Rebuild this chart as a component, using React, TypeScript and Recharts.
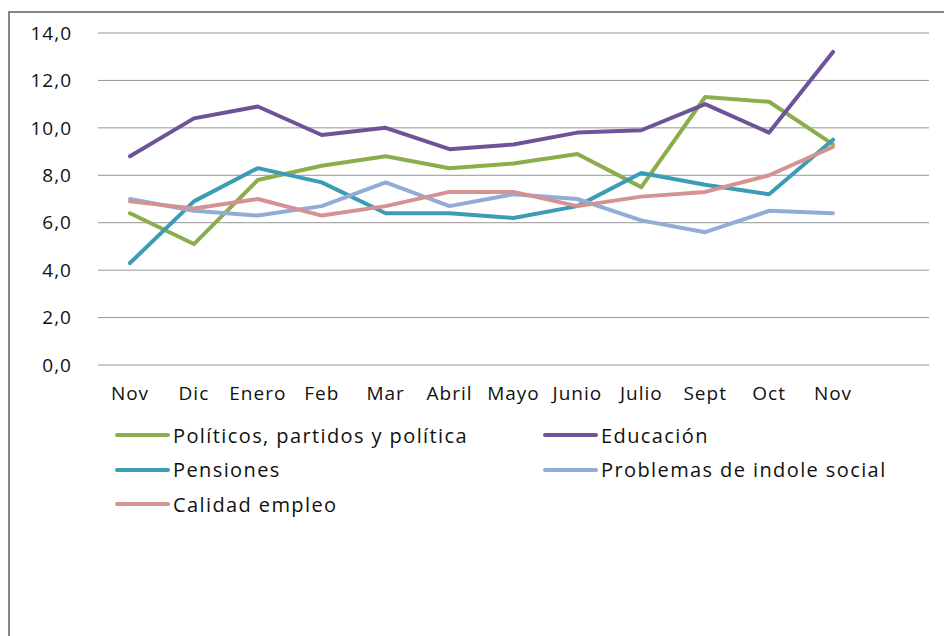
import React from 'react';
import { LineChart, Line, XAxis, YAxis, CartesianGrid } from 'recharts';

const meses = ['Nov', 'Dic', 'Enero', 'Feb', 'Mar', 'Abril', 'Mayo', 'Junio', 'Julio', 'Sept', 'Oct', 'Nov'];

const politicos = [6.4, 5.1, 7.8, 8.4, 8.8, 8.3, 8.5, 8.9, 7.5, 11.3, 11.1, 9.3];
const educacion = [8.8, 10.4, 10.9, 9.7, 10.0, 9.1, 9.3, 9.8, 9.9, 11.0, 9.8, 13.2];
const pensiones = [4.3, 6.9, 8.3, 7.7, 6.4, 6.4, 6.2, 6.7, 8.1, 7.6, 7.2, 9.5];
const problemas = [7.0, 6.5, 6.3, 6.7, 7.7, 6.7, 7.2, 7.0, 6.1, 5.6, 6.5, 6.4];
const calidad = [6.9, 6.6, 7.0, 6.3, 6.7, 7.3, 7.3, 6.7, 7.1, 7.3, 8.0, 9.2];

const yTicks = [0, 2, 4, 6, 8, 10, 12, 14];

const series = [
  { key: 'politicos', name: 'Políticos, partidos y política', color: '#8cad4c' },
  { key: 'educacion', name: 'Educación', color: '#6f5399' },
  { key: 'pensiones', name: 'Pensiones', color: '#3b9cb5' },
  { key: 'problemas', name: 'Problemas de indole social', color: '#93acd6' },
  { key: 'calidad', name: 'Calidad empleo', color: '#d49392' },
];

const data = meses.map((mes, i) => ({
  mes,
  politicos: politicos[i],
  educacion: educacion[i],
  pensiones: pensiones[i],
  problemas: problemas[i],
  calidad: calidad[i],
}));

const font = '"Open Sans", sans-serif';

const App: React.FC = () => {
  return (
    <div style={{ position: 'relative', width: 944, height: 636, background: '#fff', fontFamily: font }}>
      <style>{'body{margin:0;overflow:hidden}'}</style>
      {/* frame: only top and left edges are visible */}
      <div
        style={{
          position: 'absolute',
          left: 8,
          top: 11,
          width: 936,
          height: 625,
          borderTop: '2px solid #868686',
          borderLeft: '2px solid #868686',
          boxSizing: 'border-box',
        }}
      />
      <div style={{ position: 'absolute', left: 0, top: 0 }}>
        <LineChart width={944} height={636} data={data} margin={{ top: 33, right: 15, bottom: 241, left: 8 }}>
          <CartesianGrid vertical={false} stroke="#969696" strokeWidth={1} />
          <XAxis
            dataKey="mes"
            axisLine={false}
            tickLine={false}
            height={30}
            padding={{ left: 32, right: 96 }}
            tickMargin={16}
            interval={0}
            tick={{ fontSize: 19, fill: '#111', fontFamily: font, letterSpacing: 1 }}
          />
          <YAxis
            width={90}
            domain={[0, 14]}
            ticks={yTicks}
            axisLine={false}
            tickLine={false}
            tickMargin={20}
            tickFormatter={(v: number) => v.toFixed(1).replace('.', ',')}
            tick={{ fontSize: 19, fill: '#111', fontFamily: font, letterSpacing: 1 }}
          />
          {series.map(s => (
            <Line
              key={s.key}
              type="linear"
              dataKey={s.key}
              name={s.name}
              stroke={s.color}
              strokeWidth={4}
              strokeLinecap="round"
              strokeLinejoin="round"
              dot={false}
              activeDot={false}
              isAnimationActive={false}
            />
          ))}
        </LineChart>
      </div>
      {series.map((s, i) => {
        const col = i % 2;
        const row = Math.floor(i / 2);
        return (
          <div
            key={s.key}
            style={{
              position: 'absolute',
              left: col === 0 ? 115 : 543,
              top: 421 + row * 34.5,
              height: 28,
              display: 'flex',
              alignItems: 'center',
              fontSize: 20,
              color: '#111',
              letterSpacing: 1.4,
              whiteSpace: 'nowrap',
            }}
          >
            <span style={{ display: 'inline-block', width: 55, height: 4, borderRadius: 2, background: s.color, marginRight: 3 }} />
            {s.name}
          </div>
        );
      })}
    </div>
  );
};

export default App;
